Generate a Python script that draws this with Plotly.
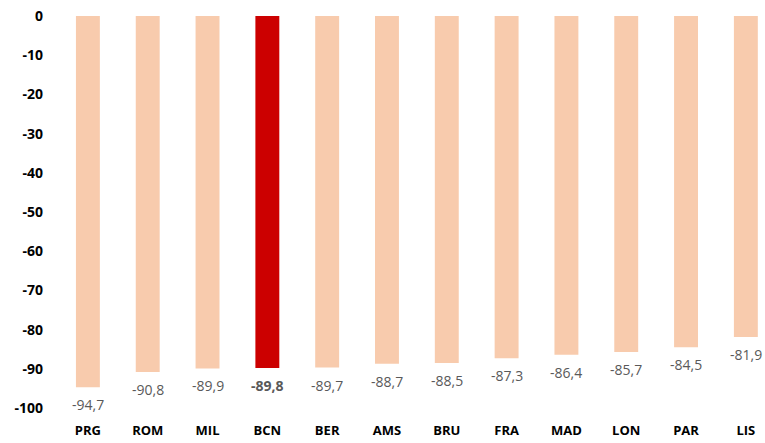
import plotly.graph_objects as go

categories = ["PRG", "ROM", "MIL", "BCN", "BER", "AMS", "BRU", "FRA", "MAD", "LON", "PAR", "LIS"]
values = [-94.7, -90.8, -89.9, -89.8, -89.7, -88.7, -88.5, -87.3, -86.4, -85.7, -84.5, -81.9]
highlight = "BCN"
y_ticks = [0, -10, -20, -30, -40, -50, -60, -70, -80, -90, -100]

colors = ["#CC0000" if c == highlight else "#F8CBAD" for c in categories]

fig = go.Figure()
fig.add_trace(go.Bar(x=categories, y=values, marker=dict(color=colors, line=dict(width=0)),
                     width=0.4, hoverinfo="skip"))

for c, v in zip(categories, values):
    txt = f"{v:.1f}".replace(".", ",")
    if c == highlight:
        txt = f"<b>{txt}</b>"
    fig.add_annotation(x=c, y=v, text=txt, showarrow=False, yanchor="top", yshift=-6,
                       font=dict(family="Open Sans", size=14, color="#595959"))

fig.update_layout(
    width=765, height=443,
    margin=dict(l=58, r=0, t=16, b=35),
    paper_bgcolor="white", plot_bgcolor="white",
    showlegend=False,
    xaxis=dict(range=[-0.5, 11.32], showgrid=False, showline=False, zeroline=False,
               automargin=False, ticks="",
               tickfont=dict(family="Open Sans", size=13, color="#000000", weight="bold"),
               ticklabelstandoff=13),
    yaxis=dict(range=[-100, 0], tickvals=y_ticks, ticktext=[str(t) for t in y_ticks],
               showgrid=False, showline=False, zeroline=False, ticks="", automargin=False,
               tickfont=dict(family="Open Sans", size=14, color="#000000", weight="bold"),
               ticklabelstandoff=14),
)

fig.write_html("out.html", config={"displayModeBar": False},
               post_script="document.body.style.margin='0';document.body.style.overflow='hidden';")
